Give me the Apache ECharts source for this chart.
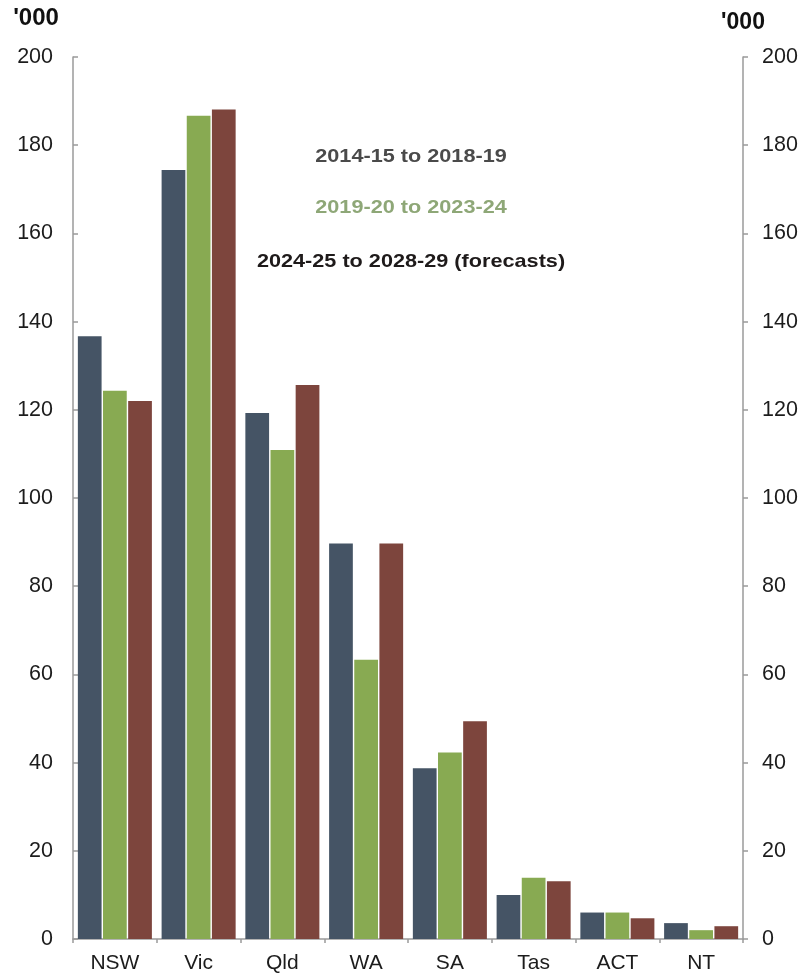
<!DOCTYPE html>
<html>
<head>
<meta charset="utf-8">
<script src="https://cdn.jsdelivr.net/npm/echarts@6/dist/echarts.min.js"></script>
<style>
  html, body { margin: 0; padding: 0; background: #ffffff; }
  #chart { width: 801px; height: 979px; }
</style>
</head>
<body>
<div id="chart"></div>
<script>
// States and territories along the category axis
const states = ['NSW', 'Vic', 'Qld', 'WA', 'SA', 'Tas', 'ACT', 'NT'];

// Five-year period names
const periodNames = ['2014-15 to 2018-19', '2019-20 to 2023-24', '2024-25 to 2028-29 (forecasts)'];

// Values in thousands for each period
const period1 = [136.7, 174.4, 119.3, 89.7, 38.7, 10.0, 6.0, 3.6];
const period2 = [124.3, 186.7, 110.9, 63.3, 42.3, 13.9, 6.0, 2.0];
const period3 = [122.0, 188.1, 125.6, 89.7, 49.4, 13.1, 4.7, 2.9];

// Value axis ticks
const yTicks = [0, 20, 40, 60, 80, 100, 120, 140, 160, 180, 200];
const unitLabel = "'000";

const barColors = ['#455465', '#88aa52', '#7d453d'];
const legendColors = ['#4a4a4a', '#8ea777', '#1e1a1a'];
const FONT = '"Liberation Sans", Arial, sans-serif';

const chart = echarts.init(document.getElementById('chart'), null, { renderer: 'canvas' });

const valueAxisBase = {
  type: 'value',
  min: yTicks[0],
  max: yTicks[yTicks.length - 1],
  interval: yTicks[1] - yTicks[0],
  splitLine: { show: false },
  axisLine: { show: true, lineStyle: { color: '#9a9a9a', width: 1.5 } },
  axisTick: { show: true, length: 5, lineStyle: { color: '#9a9a9a', width: 1.5 } },
  axisLabel: { color: '#1c1c1c', fontSize: 21.5, fontFamily: FONT }
};

const seriesData = [period1, period2, period3];

chart.setOption({
  animation: false,
  backgroundColor: '#ffffff',
  grid: { left: 73, right: 58, top: 57, bottom: 40, containLabel: false },
  xAxis: {
    type: 'category',
    data: states,
    axisLine: { show: true, lineStyle: { color: '#9a9a9a', width: 1.5 } },
    axisTick: { show: true, length: 4, alignWithLabel: false, lineStyle: { color: '#9a9a9a', width: 1.5 } },
    axisLabel: { color: '#1c1c1c', fontSize: 21, fontFamily: FONT, margin: 14 }
  },
  yAxis: [
    Object.assign({}, valueAxisBase, {
      position: 'left',
      axisTick: Object.assign({}, valueAxisBase.axisTick, { inside: true }),
      axisLabel: Object.assign({}, valueAxisBase.axisLabel, { margin: 20 })
    }),
    Object.assign({}, valueAxisBase, {
      position: 'right',
      axisLabel: Object.assign({}, valueAxisBase.axisLabel, { margin: 19 })
    })
  ],
  series: seriesData.map((d, i) => ({
    name: periodNames[i],
    type: 'bar',
    yAxisIndex: 0,
    data: d,
    barGap: '6%',
    barCategoryGap: '11.6%',
    itemStyle: { color: barColors[i] }
  })),
  graphic: [
    {
      type: 'text', x: 36, y: 18,
      style: { text: unitLabel, fill: '#111', font: 'bold 24px ' + FONT, align: 'center', verticalAlign: 'middle' }
    },
    {
      type: 'text', x: 743, y: 23,
      style: { text: unitLabel, fill: '#111', font: 'bold 23px ' + FONT, align: 'center', verticalAlign: 'middle' }
    }
  ].concat(periodNames.map((name, i) => ({
    type: 'text',
    x: 411,
    y: [157, 208, 262][i],
    scaleX: 1.14,
    style: {
      text: name,
      fill: legendColors[i],
      font: 'bold 19px ' + FONT,
      align: 'center',
      verticalAlign: 'middle'
    }
  })))
});
</script>
</body>
</html>
